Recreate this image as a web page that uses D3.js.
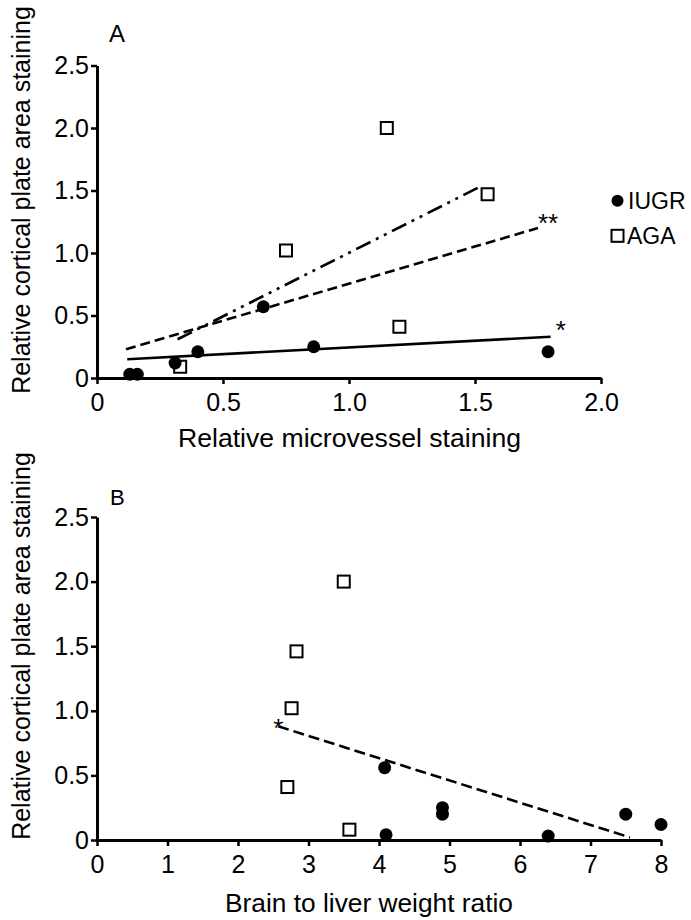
<!DOCTYPE html>
<html>
<head>
<meta charset="utf-8">
<script src="https://cdn.jsdelivr.net/npm/d3@7"></script>
<style>
  html, body { margin: 0; padding: 0; background: #fff; }
  svg { display: block; }
  text { font-family: "Liberation Sans", Arial, sans-serif; fill: #000; }
</style>
</head>
<body>
<svg id="chart" width="691" height="920"></svg>
<script>
// ---- Data ----
const yTicks = [0, 0.5, 1, 1.5, 2, 2.5];
const yTickLabels = ["0", "0.5", "1.0", "1.5", "2.0", "2.5"];
const xTicksA = [0, 0.5, 1, 1.5, 2];
const xTickLabelsA = ["0", "0.5", "1.0", "1.5", "2.0"];
const xTicksB = [0, 1, 2, 3, 4, 5, 6, 7, 8];
const xTickLabelsB = ["0", "1", "2", "3", "4", "5", "6", "7", "8"];

// Panel A: relative microvessel staining vs cortical plate staining
const aIugrX = [0.13, 0.16, 0.31, 0.40, 0.66, 0.86, 1.79];
const aIugrY = [0.03, 0.03, 0.12, 0.21, 0.57, 0.25, 0.21];
const aAgaX = [0.33, 0.75, 1.15, 1.20, 1.55];
const aAgaY = [0.09, 1.02, 2.00, 0.41, 1.47];

// Panel B: brain to liver weight ratio vs cortical plate staining
const bIugrX = [4.08, 4.10, 4.90, 4.90, 6.40, 7.50, 8.00];
const bIugrY = [0.56, 0.04, 0.25, 0.20, 0.03, 0.20, 0.12];
const bAgaX = [2.70, 2.76, 2.83, 3.50, 3.58];
const bAgaY = [0.41, 1.02, 1.46, 2.00, 0.08];

// Regression lines (endpoints)
const aLineIugr = [[0.12, 0.15], [1.80, 0.33]];
const aLineAll = [[0.115, 0.23], [1.75, 1.20]];
const aLineAga = [[0.32, 0.31], [1.52, 1.53]];
const bLineAll = [[2.57, 0.88], [7.56, 0.02]];

const legendLabels = ["IUGR", "AGA"];
const panelLabels = ["A", "B"];
const yTitle = "Relative cortical plate area staining";
const xTitleA = "Relative microvessel staining";
const xTitleB = "Brain to liver weight ratio";

// ---- Drawing ----
const svg = d3.select("#chart");

function zip(xs, ys) { return xs.map((x, i) => [x, ys[i]]); }

function drawPanel(cfg) {
  const g = svg.append("g");
  const x = cfg.x, y = cfg.y;

  // y axis
  const yAxis = d3.axisLeft(y).tickValues(yTicks)
    .tickFormat((d, i) => yTickLabels[i]).tickSizeInner(6).tickSizeOuter(0).tickPadding(2);
  const ya = g.append("g").attr("transform", `translate(${x.range()[0]},0)`).call(yAxis);

  // x axis
  const xAxis = d3.axisBottom(x).tickValues(cfg.xTicks)
    .tickFormat((d, i) => cfg.xTickLabels[i]).tickSizeInner(6).tickSizeOuter(0).tickPadding(9);
  const xa = g.append("g").attr("transform", `translate(0,${y.range()[0]})`).call(xAxis);

  [ya, xa].forEach(a => {
    a.select(".domain").attr("stroke", "#000").attr("stroke-width", 3);
    a.selectAll(".tick line").attr("stroke", "#000").attr("stroke-width", 2.5);
    a.selectAll(".tick text").attr("font-size", 25).attr("fill", "#000")
      .style("font-family", '"Liberation Sans", Arial, sans-serif');
  });

  // regression lines
  const line = d3.line().x(d => x(d[0])).y(d => y(d[1]));
  cfg.lines.forEach(l => {
    g.append("path").attr("d", line(l.pts)).attr("fill", "none")
      .attr("stroke", "#000").attr("stroke-width", 2.6)
      .attr("stroke-dasharray", l.dash);
  });

  // AGA squares
  const s = 12;
  g.selectAll(".aga").data(cfg.aga).join("rect")
    .attr("x", d => x(d[0]) - s / 2).attr("y", d => y(d[1]) - s / 2)
    .attr("width", s).attr("height", s)
    .attr("fill", "#fff").attr("stroke", "#000").attr("stroke-width", 2);

  // IUGR circles
  g.selectAll(".iugr").data(cfg.iugr).join("circle")
    .attr("cx", d => x(d[0])).attr("cy", d => y(d[1])).attr("r", 6.5)
    .attr("fill", "#000");

  // annotations
  cfg.notes.forEach(n => {
    g.append("text").attr("x", x(n.x)).attr("y", y(n.y)).attr("font-size", 26).text(n.t);
  });

  // panel label
  g.append("text").attr("x", cfg.label.x).attr("y", cfg.label.y)
    .attr("font-size", cfg.label.size).text(cfg.label.t);

  // axis titles
  g.append("text").attr("transform", `translate(${cfg.yTitlePos[0]},${cfg.yTitlePos[1]}) rotate(-90)`)
    .attr("text-anchor", "middle").attr("font-size", 25).text(yTitle);
  g.append("text").attr("x", cfg.xTitlePos[0]).attr("y", cfg.xTitlePos[1])
    .attr("text-anchor", "middle").attr("font-size", 25)
    .attr("textLength", cfg.xTitleLen).attr("lengthAdjust", "spacingAndGlyphs")
    .text(cfg.xTitle);
}

const xA = d3.scaleLinear().domain([0, 2]).range([97, 601]);
const yA = d3.scaleLinear().domain([0, 2.5]).range([378, 65.5]);
const xB = d3.scaleLinear().domain([0, 8]).range([97, 661]);
const yB = d3.scaleLinear().domain([0, 2.5]).range([840, 517]);

drawPanel({
  x: xA, y: yA, xTicks: xTicksA, xTickLabels: xTickLabelsA,
  iugr: zip(aIugrX, aIugrY), aga: zip(aAgaX, aAgaY),
  lines: [
    { pts: aLineIugr, dash: null },
    { pts: aLineAll, dash: "10,5" },
    { pts: aLineAga, dash: "16,6,3,6,3,6" }
  ],
  notes: [
    { x: 1.75, y: 1.17, t: "**" },
    { x: 1.82, y: 0.31, t: "*" }
  ],
  label: { x: 109, y: 42, t: panelLabels[0], size: 24 },
  yTitlePos: [30, 200], xTitle: xTitleA, xTitlePos: [349.5, 447], xTitleLen: 343
});

drawPanel({
  x: xB, y: yB, xTicks: xTicksB, xTickLabels: xTickLabelsB,
  iugr: zip(bIugrX, bIugrY), aga: zip(bAgaX, bAgaY),
  lines: [
    { pts: bLineAll, dash: "11,5" }
  ],
  notes: [
    { x: 2.5, y: 0.80, t: "*" }
  ],
  label: { x: 110, y: 505, t: panelLabels[1], size: 22 },
  yTitlePos: [30, 646], xTitle: xTitleB, xTitlePos: [369, 912], xTitleLen: 288
});

// legend
const leg = svg.append("g");
leg.append("circle").attr("cx", 617.5).attr("cy", 200.8).attr("r", 6).attr("fill", "#000");
leg.append("text").attr("x", 628).attr("y", 208.5).attr("font-size", 23).text(legendLabels[0]);
leg.append("rect").attr("x", 611.5).attr("y", 229.8).attr("width", 12).attr("height", 12)
  .attr("fill", "#fff").attr("stroke", "#000").attr("stroke-width", 2);
leg.append("text").attr("x", 627).attr("y", 243.5).attr("font-size", 23).text(legendLabels[1]);
</script>
</body>
</html>
